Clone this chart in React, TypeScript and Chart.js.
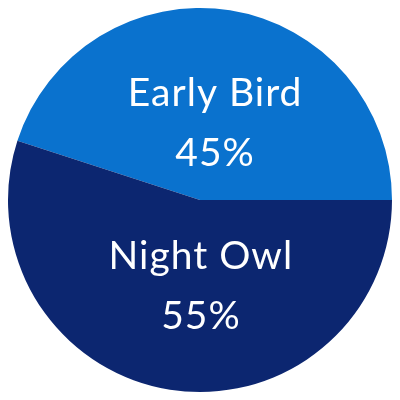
import React, { useEffect, useRef } from "react";
import { Chart, registerables } from "chart.js";

Chart.register(...registerables);

const categories = ["Early Bird", "Night Owl"];
const values = [45, 55];
const valueLabels = ["45%", "55%"];
const colors = ["#0A72CE", "#0C2670"];

// label placement tuning (fraction of radius, pixel nudges)
const labelRadiusFraction = 0.42;
const labelNudges = [
  [2, 2],
  [13, 5],
];

const labelPlugin = {
  id: "sliceLabels",
  afterDatasetsDraw(chart: any) {
    const ctx = chart.ctx;
    const meta = chart.getDatasetMeta(0);
    ctx.save();
    ctx.fillStyle = "#ffffff";
    ctx.textAlign = "center";
    ctx.textBaseline = "alphabetic";
    ctx.font = "400 39px Lato";
    try {
      (ctx as any).letterSpacing = "1px";
    } catch (e) {}
    meta.data.forEach((arc: any, i: number) => {
      const p = arc.getProps(["x", "y", "startAngle", "endAngle", "outerRadius"], true);
      const mid = (p.startAngle + p.endAngle) / 2;
      const r = p.outerRadius * labelRadiusFraction;
      const cx = p.x + Math.cos(mid) * r + labelNudges[i][0] + 0.5;
      const cy = p.y + Math.sin(mid) * r + labelNudges[i][1];
      ctx.fillText(categories[i], cx, cy - 16);
      ctx.fillText(valueLabels[i], cx, cy + 44);
    });
    ctx.restore();
  },
};

export default function App() {
  const ref = useRef<HTMLCanvasElement | null>(null);
  useEffect(() => {
    document.body.style.margin = "0";
    document.body.style.background = "#ffffff";
    const chart = new Chart(ref.current as HTMLCanvasElement, {
      type: "pie",
      data: {
        labels: categories,
        datasets: [
          {
            data: values,
            backgroundColor: colors,
            borderWidth: 0,
          },
        ],
      },
      options: {
        animation: false,
        responsive: false,
        rotation: 288,
        layout: { padding: 8 },
        plugins: {
          legend: { display: false },
          tooltip: { enabled: false },
        },
      },
      plugins: [labelPlugin],
    });
    return () => chart.destroy();
  }, []);
  return (
    <div style={{ position: "fixed", left: 0, top: 0, width: 400, height: 400, background: "#fff" }}>
      <canvas ref={ref} width={400} height={400} style={{ width: 400, height: 400 }} />
    </div>
  );
}
